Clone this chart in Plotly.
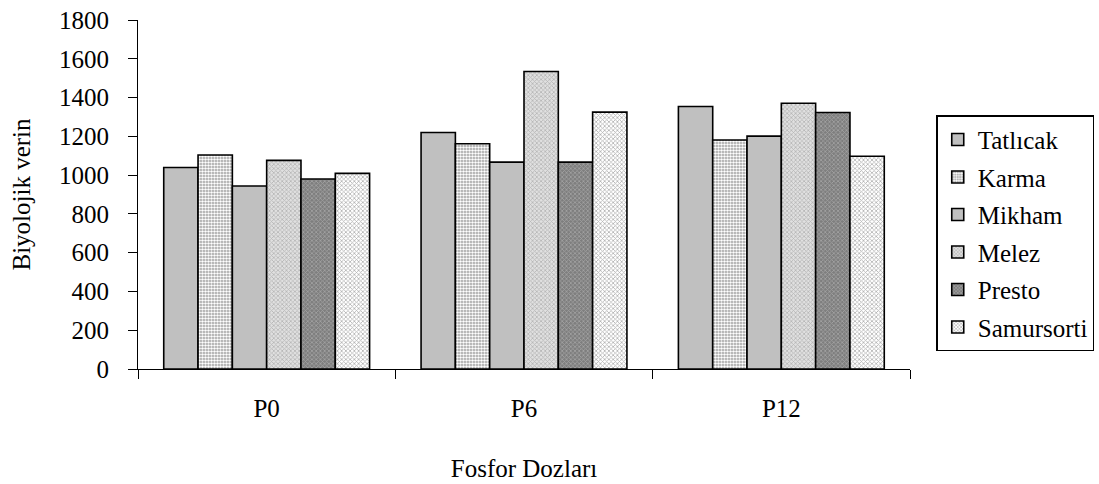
import plotly.graph_objects as go

# Phosphorus dose groups and cultivar yields (biological yield)
doses = ["P0", "P6", "P12"]
cultivars = ["Tatlıcak", "Karma", "Mikham", "Melez", "Presto", "Samursorti"]
tatlicak = [1039, 1220, 1354]
karma = [1104, 1162, 1181]
mikham = [944, 1067, 1201]
melez = [1076, 1534, 1371]
presto = [980, 1067, 1323]
samursorti = [1009, 1325, 1097]
y_ticks = [0, 200, 400, 600, 800, 1000, 1200, 1400, 1600, 1800]

series = [tatlicak, karma, mikham, melez, presto, samursorti]

# fill: (background colour, pattern shape, pattern colour, pattern size, solidity)
styles = [
    ("#C0C0C0", "", None, None, None),
    ("#9C9C9C", ".", "#FFFFFF", 3, 0.55),
    ("#C0C0C0", "", None, None, None),
    ("#E0E0E0", "x", "#B4B4B4", 3, 0.45),
    ("#7E7E7E", "x", "#A4A4A4", 3, 0.45),
    ("#FFFFFF", "x", "#B0B0B0", 3, 0.45),
]

FONT = "Liberation Serif, Times New Roman, serif"
FS = 25

fig = go.Figure()
for name, vals, (bg, shape, fg, size, sol) in zip(cultivars, series, styles):
    marker = dict(color=bg, line=dict(color="#000000", width=1.6))
    if shape:
        marker["pattern"] = dict(shape=shape, fgcolor=fg, bgcolor=bg,
                                 size=size, solidity=sol, fillmode="replace")
    fig.add_trace(go.Bar(x=doses, y=vals, name=name, marker=marker,
                         legendgroup=name))

fig.update_layout(
    width=1099, height=484,
    paper_bgcolor="white", plot_bgcolor="white",
    barmode="group", bargap=0.2, bargroupgap=0,
    margin=dict(l=138, r=189, t=20, b=115, autoexpand=False),
    font=dict(family=FONT, size=FS, color="#000000"),
    showlegend=True,
    legend=dict(
        x=1.034, xanchor="left", y=0.727, yanchor="top",
        bordercolor="#000000", borderwidth=1.5, bgcolor="white",
        font=dict(family=FONT, size=FS, color="#000000"),
        tracegroupgap=2, itemwidth=30,
    ),
    xaxis=dict(
        automargin=False,
        showline=True, linecolor="#000000", linewidth=1,
        ticks="outside", tickson="boundaries", ticklen=9,
        tickcolor="#000000", showgrid=False, ticklabelstandoff=17,
        tickfont=dict(family=FONT, size=FS),
        title=dict(text="Fosfor Dozları", standoff=38,
                   font=dict(family=FONT, size=FS)),
    ),
    yaxis=dict(
        automargin=False,
        range=[0, 1800], tickvals=y_ticks,
        showline=True, linecolor="#000000", linewidth=1,
        ticks="outside", ticklen=9, tickcolor="#000000",
        showgrid=False, zeroline=False, ticklabelstandoff=14,
        tickfont=dict(family=FONT, size=FS),
        title=dict(text="Biyolojik verin", standoff=21,
                   font=dict(family=FONT, size=FS)),
    ),
)

fig.write_html("out.html")
